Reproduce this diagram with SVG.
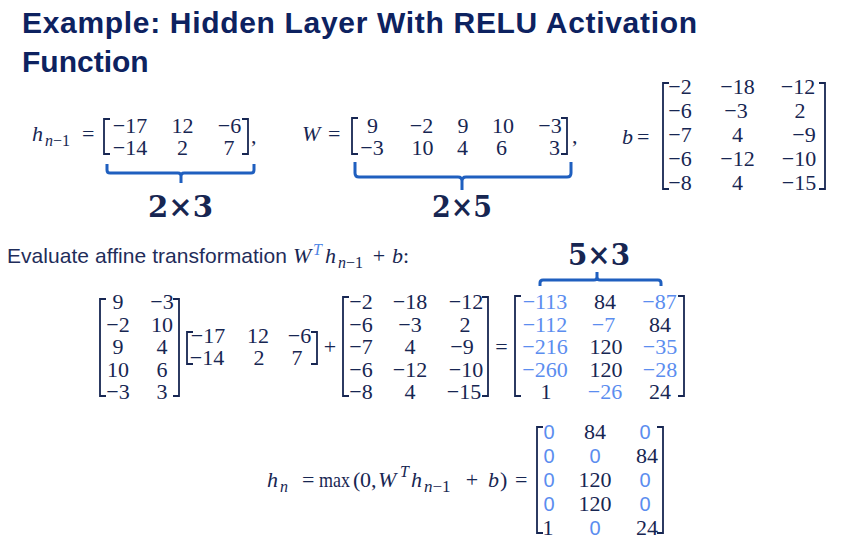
<svg xmlns="http://www.w3.org/2000/svg" width="841" height="541" viewBox="0 0 841 541">
<style>
.title{font-family:"Liberation Sans",Arial,sans-serif;font-weight:bold;font-size:30px;fill:#0d2260}
.txt{font-family:"Liberation Sans",Arial,sans-serif;font-size:21px;fill:#1f2d5a}
.m{font-family:"Liberation Serif","Times New Roman",serif;font-size:22px;fill:#172652}
.i{font-style:italic}
.c{text-anchor:middle}
.s{font-size:16px}
.bl{fill:#5b8def}
.bs{font-family:"Liberation Sans",Arial,sans-serif;font-size:20px;fill:#5b8def;text-anchor:middle}
.tb{fill:#4f86e6}
.br{fill:none;stroke:#172652;stroke-width:1.8}
.brace{fill:none;stroke:#1f5fbf;stroke-width:3;stroke-linejoin:round}
.dim{font-family:"DejaVu Serif",serif;font-weight:bold;font-size:30px;fill:#172652;text-anchor:middle}
</style>
<rect width="841" height="541" fill="#ffffff"/>

<g id="title">
<text class="title" x="22" y="33" textLength="675">Example: Hidden Layer With RELU Activation</text>
<text class="title" x="22" y="72">Function</text>
</g>

<g id="eq-hprev">
<text class="m i" x="32" y="141">h</text>
<text class="m s" x="45" y="146"><tspan class="i">n</tspan>−1</text>
<text class="m" x="82" y="141">=</text>
<path class="br" d="M110,119 H104 V154 H110"/>
<path class="br" d="M242,119 H248 V154 H242"/>
<g class="m c">
<text x="130" y="133">−17</text><text x="182.5" y="133">12</text><text x="229.5" y="133">−6</text>
<text x="130" y="155">−14</text><text x="182.5" y="155">2</text><text x="229" y="155">7</text>
</g>
<text class="m" x="251" y="143">,</text>
</g>

<g id="eq-W">
<text class="m i" x="302" y="141">W</text>
<text class="m" x="328" y="141">=</text>
<path class="br" d="M358,118 H352 V154 H358"/>
<path class="br" d="M561,118 H567 V154 H561"/>
<g class="m c">
<text x="372.5" y="133">9</text><text x="421.5" y="133">−2</text><text x="463" y="133">9</text><text x="503" y="133">10</text><text x="550" y="133">−3</text>
<text x="372" y="155">−3</text><text x="422.5" y="155">10</text><text x="462.5" y="155">4</text><text x="501.5" y="155">6</text><text x="554.5" y="155">3</text>
</g>
<text class="m" x="572" y="143">,</text>
</g>

<g id="eq-b">
<text class="m i" x="622" y="144">b</text>
<text class="m" x="637" y="144">=</text>
<path class="br" d="M669,83 H663 V189 H669"/>
<path class="br" d="M819,83 H825 V189 H819"/>
<g class="m c">
<text x="680" y="94">−2</text><text x="737.5" y="94">−18</text><text x="798" y="94">−12</text>
<text x="680" y="118">−6</text><text x="736" y="118">−3</text><text x="800" y="118">2</text>
<text x="680" y="142">−7</text><text x="737.5" y="142">4</text><text x="804" y="142">−9</text>
<text x="680" y="166">−6</text><text x="737.5" y="166">−12</text><text x="799" y="166">−10</text>
<text x="680" y="190">−8</text><text x="737.5" y="190">4</text><text x="799" y="190">−15</text>
</g>
</g>

<g id="braces">
<path class="brace" d="M107,164 V170 Q107,173 110,173 H178 Q181,173 181,176 V183 M181,176 Q181,173 184,173 H251 Q254,173 254,170 V164"/>
<path class="brace" d="M355,162 V173 Q355,177 359,177 H458 Q462,177 462,181 V190 M462,181 Q462,177 466,177 H567 Q571,177 571,173 V162"/>
<path class="brace" d="M540,286 V283 Q540,280 543,280 H594 Q597,280 597,277 V272 M597,277 Q597,280 600,280 H658 Q661,280 661,283 V286"/>
</g>

<g id="dims">
<text class="dim" x="180.5" y="217" textLength="65" lengthAdjust="spacingAndGlyphs">2×3</text>
<text class="dim" x="462" y="217" textLength="60" lengthAdjust="spacingAndGlyphs">2×5</text>
<text class="dim" x="599" y="265" textLength="62" lengthAdjust="spacingAndGlyphs">5×3</text>
</g>

<g id="evaluate">
<text class="txt" x="7" y="263" textLength="280">Evaluate affine transformation</text>
<text class="m i" x="293" y="263">W</text>
<text class="m i s tb" x="313" y="255">T</text>
<text class="m i" x="325" y="263">h</text>
<text class="m s" x="338" y="268"><tspan class="i">n</tspan>−1</text>
<text class="m c" x="379" y="263">+</text>
<text class="m i" x="392" y="263">b</text>
<text class="m" x="403" y="263">:</text>
</g>

<g id="eq-affine">
<path class="br" d="M106,299 H100 V396 H106"/>
<path class="br" d="M173,299 H179 V396 H173"/>
<g class="m c">
<text x="118" y="309">9</text><text x="162" y="309">−3</text>
<text x="118" y="331.5">−2</text><text x="162" y="331.5">10</text>
<text x="118" y="354">9</text><text x="162" y="354">4</text>
<text x="118" y="376.5">10</text><text x="162" y="376.5">6</text>
<text x="118" y="399">−3</text><text x="162" y="399">3</text>
</g>
<path class="br" d="M193,332 H187 V364 H193"/>
<path class="br" d="M311,332 H317 V364 H311"/>
<g class="m c">
<text x="208" y="343">−17</text><text x="258" y="343">12</text><text x="299.5" y="343">−6</text>
<text x="207" y="365">−14</text><text x="259" y="365">2</text><text x="297" y="365">7</text>
</g>
<text class="m c" x="330" y="354">+</text>
<path class="br" d="M349,297 H343 V396 H349"/>
<path class="br" d="M482,297 H488 V396 H482"/>
<g class="m c">
<text x="361" y="309">−2</text><text x="410" y="309">−18</text><text x="466" y="309">−12</text>
<text x="361" y="331.5">−6</text><text x="410" y="331.5">−3</text><text x="465" y="331.5">2</text>
<text x="361" y="354">−7</text><text x="410" y="354">4</text><text x="462" y="354">−9</text>
<text x="361" y="376.5">−6</text><text x="410" y="376.5">−12</text><text x="466" y="376.5">−10</text>
<text x="361" y="399">−8</text><text x="410" y="399">4</text><text x="464" y="399">−15</text>
</g>
<text class="m c" x="501.5" y="354">=</text>
<path class="br" d="M521,296 H515 V396 H521"/>
<path class="br" d="M678,296 H684 V396 H678"/>
<g class="m c">
<text class="bl" x="545" y="309">−113</text><text x="605" y="309">84</text><text class="bl" x="659.5" y="309">−87</text>
<text class="bl" x="545" y="331.5">−112</text><text class="bl" x="603.5" y="331.5">−7</text><text x="660" y="331.5">84</text>
<text class="bl" x="545" y="354">−216</text><text x="606" y="354">120</text><text class="bl" x="660" y="354">−35</text>
<text class="bl" x="545" y="376.5">−260</text><text x="606" y="376.5">120</text><text class="bl" x="660" y="376.5">−28</text>
<text x="546" y="399">1</text><text class="bl" x="605" y="399">−26</text><text x="660" y="399">24</text>
</g>
</g>

<g id="eq-relu">
<text class="m i" x="267" y="487">h</text>
<text class="m i s" x="280" y="492">n</text>
<text class="m" x="302" y="487">=</text>
<text class="m" x="319" y="487" textLength="31" lengthAdjust="spacingAndGlyphs">max</text>
<text class="m" x="353" y="487">(</text>
<text class="m" x="360" y="487">0</text>
<text class="m" x="371" y="487">,</text>
<text class="m i" x="378" y="487">W</text>
<text class="m i s" x="400" y="477">T</text>
<text class="m i" x="411" y="487">h</text>
<text class="m" x="424" y="492" style="font-size:17px"><tspan class="i">n</tspan>−1</text>
<text class="m c" x="472" y="487">+</text>
<text class="m i" x="488" y="487">b</text>
<text class="m" x="500" y="487">)</text>
<text class="m" x="515" y="487">=</text>
<path class="br" d="M543,427 H537 V533 H543"/>
<path class="br" d="M657,427 H663 V533 H657"/>
<text class="bs" x="549" y="439">0</text><text class="m c" x="595" y="439">84</text><text class="bs" x="645" y="439">0</text>
<text class="bs" x="549" y="463">0</text><text class="bs" x="595" y="463">0</text><text class="m c" x="647" y="463">84</text>
<text class="bs" x="549" y="487">0</text><text class="m c" x="595" y="487">120</text><text class="bs" x="645" y="487">0</text>
<text class="bs" x="549" y="511">0</text><text class="m c" x="595" y="511">120</text><text class="bs" x="645" y="511">0</text>
<text class="m c" x="548" y="535">1</text><text class="bs" x="595" y="535">0</text><text class="m c" x="647" y="535">24</text>
</g>
</svg>
